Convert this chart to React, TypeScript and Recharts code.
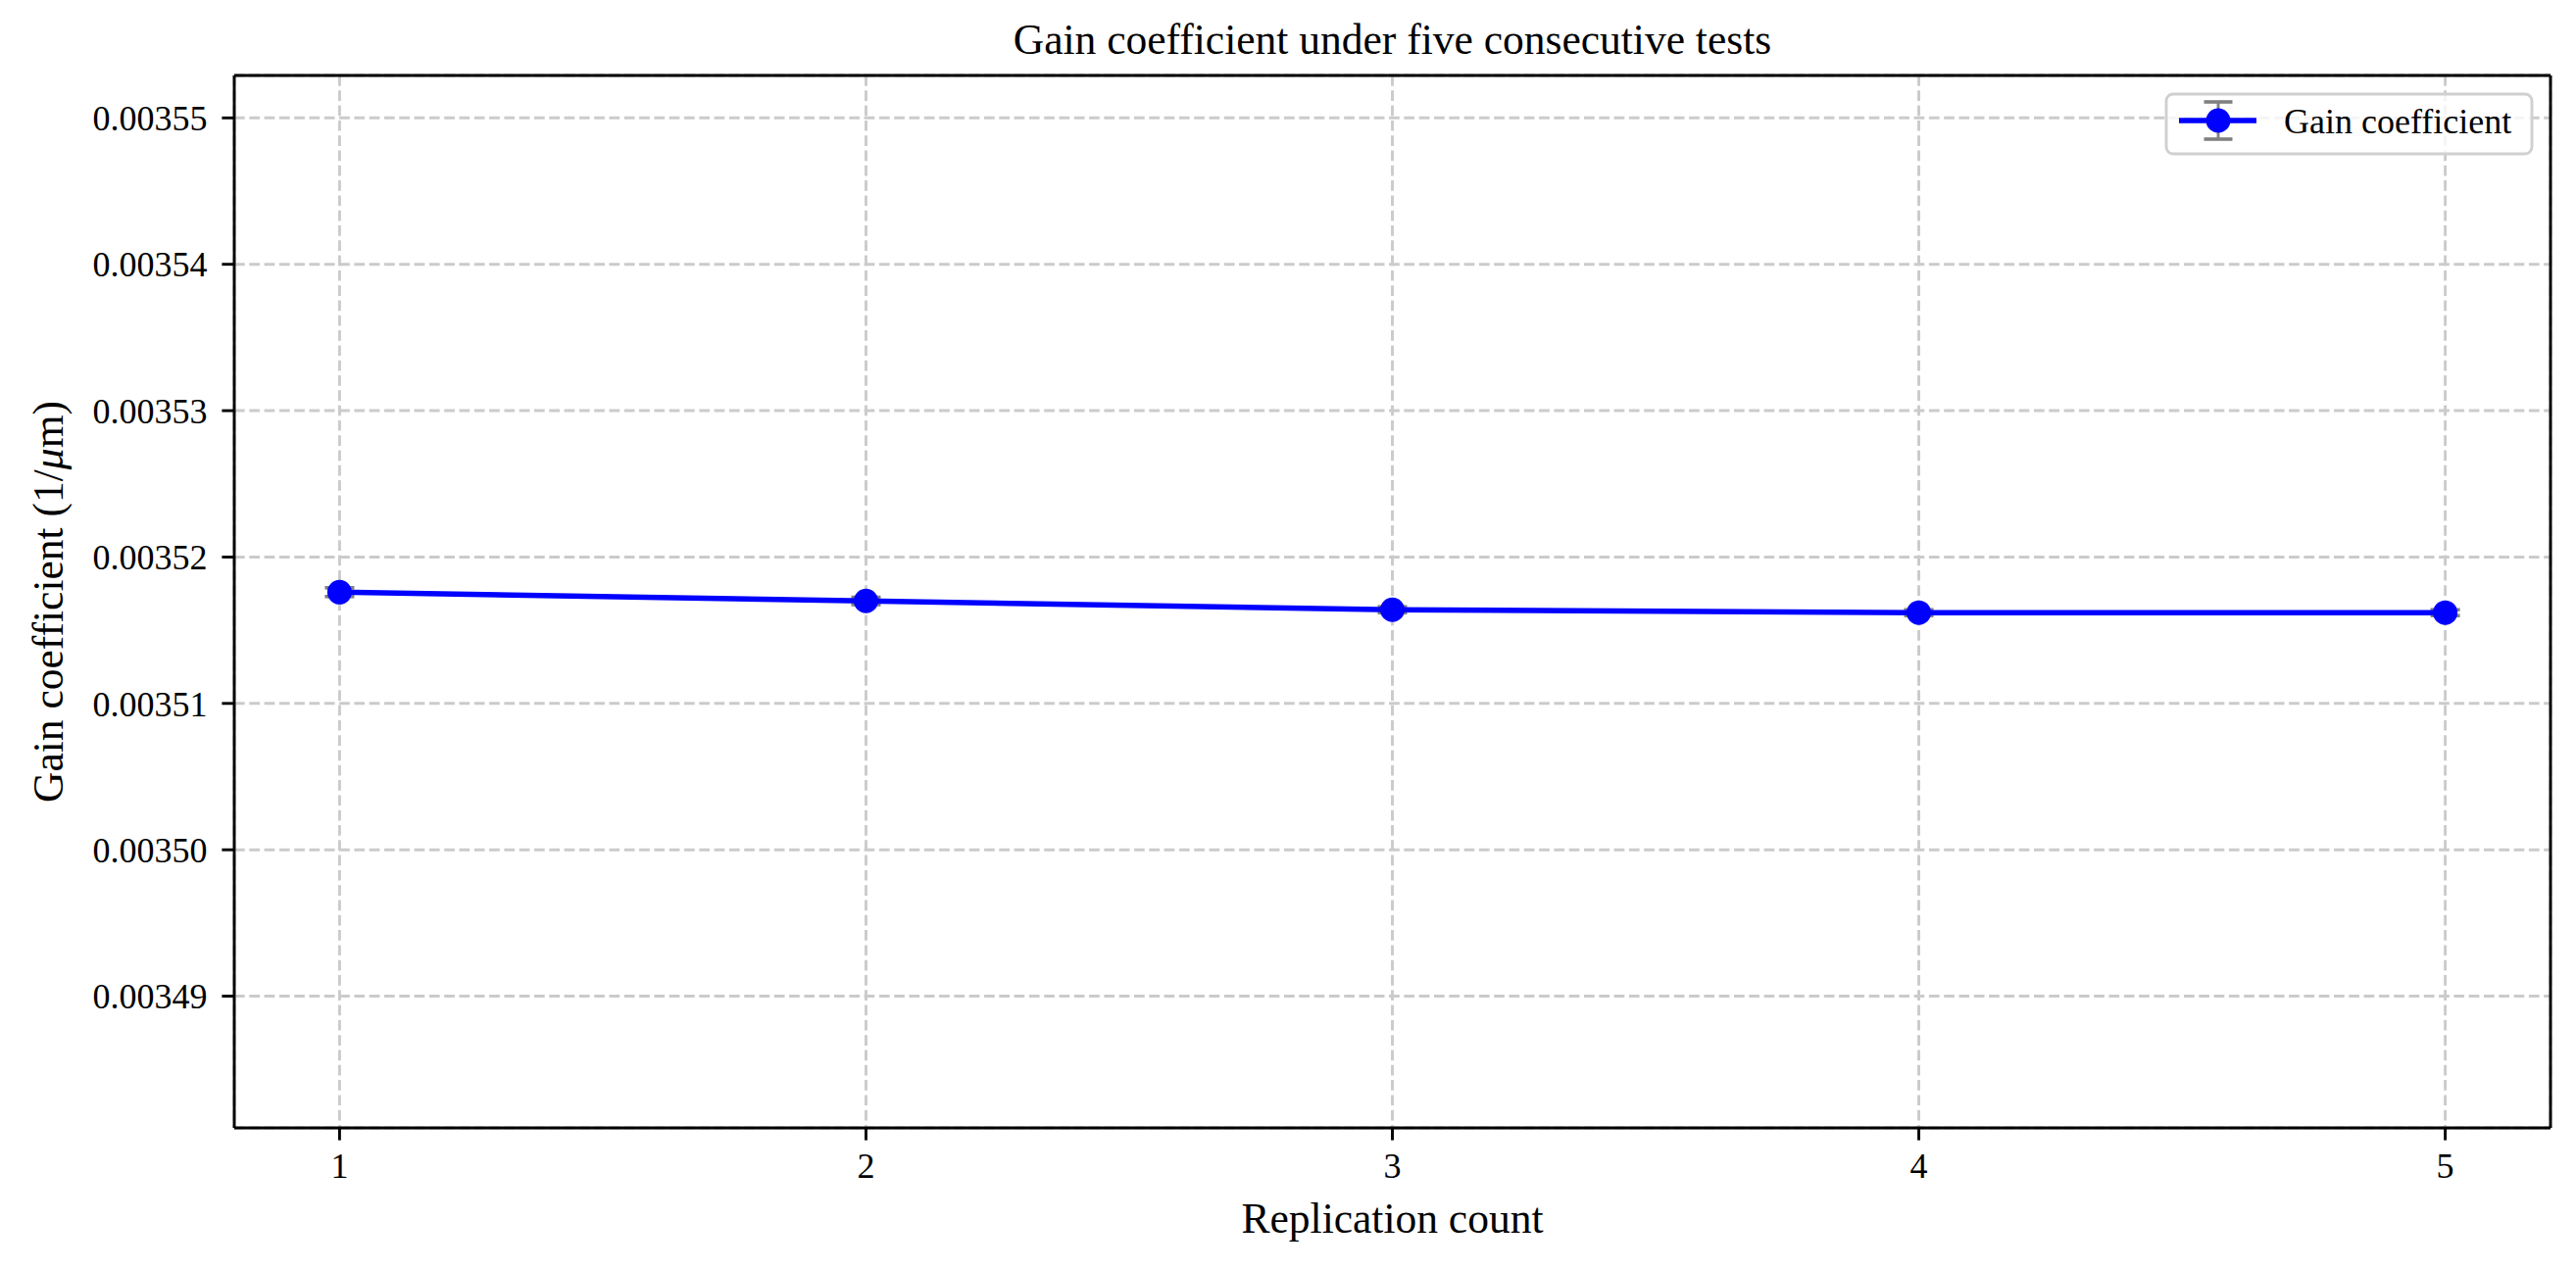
import React from 'react';
import { LineChart, Line, XAxis, YAxis, CartesianGrid, ErrorBar } from 'recharts';

// replication index and the gain coefficient measured each time (1/um)
const replications = [1, 2, 3, 4, 5];
const gainValues = [0.0035176, 0.003517, 0.0035164, 0.0035162, 0.0035162];
const gainErrors = [0.0000003, 0.00000025, 0.0000002, 0.0000002, 0.0000002];

const xTicks = [1, 2, 3, 4, 5];
const yTicks = [0.00349, 0.0035, 0.00351, 0.00352, 0.00353, 0.00354, 0.00355];
const xDomain = [0.8, 5.2];
const yDomain = [0.003481, 0.0035529];

const data = replications.map((run, i) => ({ run, gain: gainValues[i], err: gainErrors[i] }));

const FONT = '"Liberation Serif", "Times New Roman", serif';
const BLUE = '#0000ff';
const AXIS = { stroke: '#000', strokeWidth: 2.9 };

const XLabel = ({ viewBox }: any) => (
  <text
    x={viewBox.x + viewBox.width / 2}
    y={viewBox.y + 107}
    textAnchor="middle"
    fontSize={43.5}
    fontFamily={FONT}
    fill="#000"
  >
    Replication count
  </text>
);

const YLabel = ({ viewBox }: any) => {
  const x = viewBox.x + 64;
  const y = viewBox.y + viewBox.height / 2;
  return (
    <text
      x={x}
      y={y}
      transform={`rotate(-90, ${x}, ${y})`}
      textAnchor="middle"
      fontSize={43.5}
      fontFamily={FONT}
      fill="#000"
    >
      Gain coefficient (1/<tspan fontStyle="italic">μ</tspan>m)
    </text>
  );
};

export default function App() {
  return (
    <div
      style={{
        position: 'absolute',
        left: 0,
        top: 0,
        width: 2628,
        height: 1296,
        background: '#fff',
        fontFamily: FONT,
      }}
    >
      <LineChart
        width={2628}
        height={1296}
        data={data}
        margin={{ top: 76, right: 25, bottom: 0, left: 0 }}
      >
        <CartesianGrid
          stroke="#cbcbcb"
          strokeWidth={2.9}
          strokeDasharray="10.7 4.6"
        />
        <XAxis
          dataKey="run"
          type="number"
          domain={xDomain}
          ticks={xTicks}
          allowDataOverflow
          height={145}
          tickSize={12.6}
          tickMargin={13}
          axisLine={AXIS}
          tickLine={AXIS}
          tick={{ fontSize: 36, fill: '#000', fontFamily: FONT }}
          label={<XLabel />}
        />
        {/* mirrored axes only draw the top and right frame lines */}
        <XAxis
          xAxisId="top"
          dataKey="run"
          type="number"
          orientation="top"
          domain={xDomain}
          ticks={xTicks}
          height={1}
          tick={false}
          tickLine={false}
          axisLine={AXIS}
        />
        <YAxis
          type="number"
          domain={yDomain}
          ticks={yTicks}
          allowDataOverflow
          width={239}
          tickSize={12.6}
          tickMargin={15}
          axisLine={AXIS}
          tickLine={AXIS}
          tickFormatter={(v: number) => v.toFixed(5)}
          tick={{ fontSize: 36, fill: '#000', fontFamily: FONT }}
          label={<YLabel />}
        />
        <YAxis
          yAxisId="right"
          type="number"
          orientation="right"
          domain={yDomain}
          ticks={yTicks}
          width={1}
          tick={false}
          tickLine={false}
          axisLine={AXIS}
        />
        {/* error bars first so the markers sit on top of them */}
        <Line
          dataKey="gain"
          stroke="none"
          dot={false}
          activeDot={false}
          legendType="none"
          isAnimationActive={false}
        >
          <ErrorBar dataKey="err" width={15} stroke="#808080" strokeWidth={3.6} direction="y" />
        </Line>
        <Line
          dataKey="gain"
          name="Gain coefficient"
          stroke={BLUE}
          strokeWidth={5.4}
          dot={{ r: 11, fill: BLUE, stroke: BLUE, strokeWidth: 3 }}
          activeDot={false}
          isAnimationActive={false}
        />
      </LineChart>

      <svg
        width={2628}
        height={1296}
        style={{ position: 'absolute', left: 0, top: 0, pointerEvents: 'none' }}
      >
        <text x={1420.5} y={55} textAnchor="middle" fontSize={43.5} fontFamily={FONT} fill="#000">
          Gain coefficient under five consecutive tests
        </text>
        <g>
          <rect
            x={2210}
            y={96}
            width={373}
            height={61}
            rx={7}
            fill="rgba(255,255,255,0.8)"
            stroke="#d0d0d0"
            strokeWidth={2.9}
          />
          <line x1={2263} y1={104} x2={2263} y2={142} stroke="#808080" strokeWidth={2.9} />
          <line x1={2248.5} y1={104} x2={2277.5} y2={104} stroke="#808080" strokeWidth={3.6} />
          <line x1={2248.5} y1={142} x2={2277.5} y2={142} stroke="#808080" strokeWidth={3.6} />
          <line x1={2223} y1={123} x2={2302} y2={123} stroke={BLUE} strokeWidth={5.4} />
          <circle cx={2263} cy={123} r={11} fill={BLUE} stroke={BLUE} strokeWidth={3} />
          <text x={2330} y={136} fontSize={36} fontFamily={FONT} fill="#000">
            Gain coefficient
          </text>
        </g>
      </svg>
    </div>
  );
}
